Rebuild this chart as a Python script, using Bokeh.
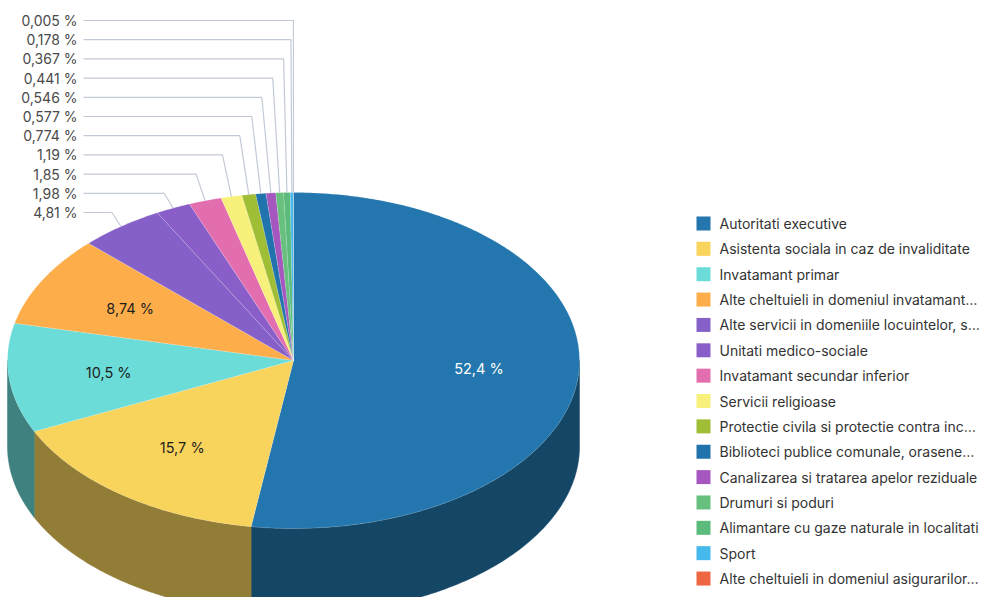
import numpy as np
from bokeh.plotting import figure
from bokeh.models import Range1d
from bokeh.embed import file_html
from bokeh.resources import INLINE
from bokeh.core.properties import value

# ---------------- data ----------------
categories = [
    "Autoritati executive",
    "Asistenta sociala in caz de invaliditate",
    "Invatamant primar",
    "Alte cheltuieli in domeniul invatamant\u2026",
    "Alte servicii in domeniile locuintelor, s\u2026",
    "Unitati medico-sociale",
    "Invatamant secundar inferior",
    "Servicii religioase",
    "Protectie civila si protectie contra inc\u2026",
    "Biblioteci publice comunale, orasene\u2026",
    "Canalizarea si tratarea apelor reziduale",
    "Drumuri si poduri",
    "Alimantare cu gaze naturale in localitati",
    "Sport",
    "Alte cheltuieli in domeniul asigurarilor\u2026",
]
values = [52.4, 15.7, 10.5, 8.74, 4.81, 1.98, 1.85, 1.19, 0.774, 0.577,
          0.546, 0.441, 0.367, 0.178, 0.005]
value_labels = ["52,4 %", "15,7 %", "10,5 %", "8,74 %", "4,81 %", "1,98 %",
                "1,85 %", "1,19 %", "0,774 %", "0,577 %", "0,546 %",
                "0,441 %", "0,367 %", "0,178 %", "0,005 %"]
colors = ["#2377ae", "#f9d45c", "#6bdcd8", "#fdae4b", "#8660c9", "#8a5ec8",
          "#e26eb0", "#f7f07b", "#9fbe36", "#2073ad", "#a557bf", "#67c07d",
          "#5bbb7b", "#45b8ec", "#ef6643"]
inside_count = 4

# ---------------- layout ----------------
W, H = 982, 597
cx, cy, rx, ry, depth = 293, 360, 286, 168, 86
FONT = "Inter"

p = figure(width=W, height=H, x_range=Range1d(0, W), y_range=Range1d(H, 0),
           output_backend="svg", toolbar_location=None, min_border=0,
           x_axis_type=None, y_axis_type=None)
p.grid.visible = False
p.outline_line_color = None
p.background_fill_color = "white"


def darken(hexcol, f=0.59):
    h = hexcol.lstrip("#")
    r, g, b = (int(h[i:i + 2], 16) for i in (0, 2, 4))
    return "#%02x%02x%02x" % (int(r * f), int(g * f), int(b * f))


vals = np.array(values, dtype=float)
frac = vals / vals.sum()
ends = np.cumsum(frac) * 2 * np.pi
starts = ends - frac * 2 * np.pi
mids = (starts + ends) / 2


def ex(t):
    return cx + rx * np.sin(t)


def ey(t):
    return cy - ry * np.cos(t)


# side walls (front half only)
side_xs, side_ys, side_cols = [], [], []
for a0, a1, c in zip(starts, ends, colors):
    a = max(a0, np.pi / 2)
    b = min(a1, 3 * np.pi / 2)
    if b <= a:
        continue
    t = np.linspace(a, b, 120)
    xt, yt = ex(t), ey(t)
    side_xs.append(list(np.concatenate([xt, xt[::-1]])))
    side_ys.append(list(np.concatenate([yt, (yt + depth)[::-1]])))
    side_cols.append(darken(c))
p.patches(side_xs, side_ys, fill_color=side_cols, line_color=side_cols,
          line_width=0.5)

# top faces
top_xs, top_ys = [], []
for a0, a1 in zip(starts, ends):
    n = max(3, int((a1 - a0) / (2 * np.pi) * 720))
    t = np.linspace(a0, a1, n)
    top_xs.append([cx] + list(ex(t)))
    top_ys.append([cy] + list(ey(t)))
p.patches(top_xs, top_ys, fill_color=colors, line_color="white",
          line_alpha=0.22, line_width=0.7)

# inside labels
f_in = 0.65
for i in range(inside_count):
    p.text(x=[cx + f_in * rx * np.sin(mids[i])],
           y=[cy - f_in * ry * np.cos(mids[i])],
           text=[value_labels[i]], text_align="center", text_baseline="middle",
           text_font=value(FONT), text_font_size="14.5px",
           text_color="white" if i == 0 else "#1e1e1e")

# outside labels with leader lines
label_x_right, line_x0 = 77, 83
first_label_y, step = 212, 19.2
lx, ly, lt = [], [], []
for k, i in enumerate(range(inside_count, len(values))):
    y_lab = first_label_y - step * k
    px, py = ex(mids[i]), ey(mids[i])
    elbow = px - min(9.0, 0.5 * (cx - px))
    p.line([line_x0, elbow, px], [y_lab, y_lab, py], line_color="#c3cad7",
           line_width=1.2)
    lx.append(label_x_right)
    ly.append(y_lab)
    lt.append(value_labels[i])
p.text(x=lx, y=ly, text=lt, text_align="right", text_baseline="middle",
       text_font=value(FONT), text_font_size="14px", text_color="#4a4a4a")

# legend
leg_x, leg_y0, leg_step, sq = 703, 223, 25.36, 14
ys = [leg_y0 + leg_step * i for i in range(len(categories))]
p.rect(x=[leg_x] * len(categories), y=ys, width=sq, height=sq,
       fill_color=colors, line_color=None)
p.text(x=[leg_x + 16] * len(categories), y=ys, text=categories,
       text_align="left", text_baseline="middle", text_font=value(FONT),
       text_font_size="14px", text_color="#333333")

open("out.html", "w").write(file_html(p, INLINE))
